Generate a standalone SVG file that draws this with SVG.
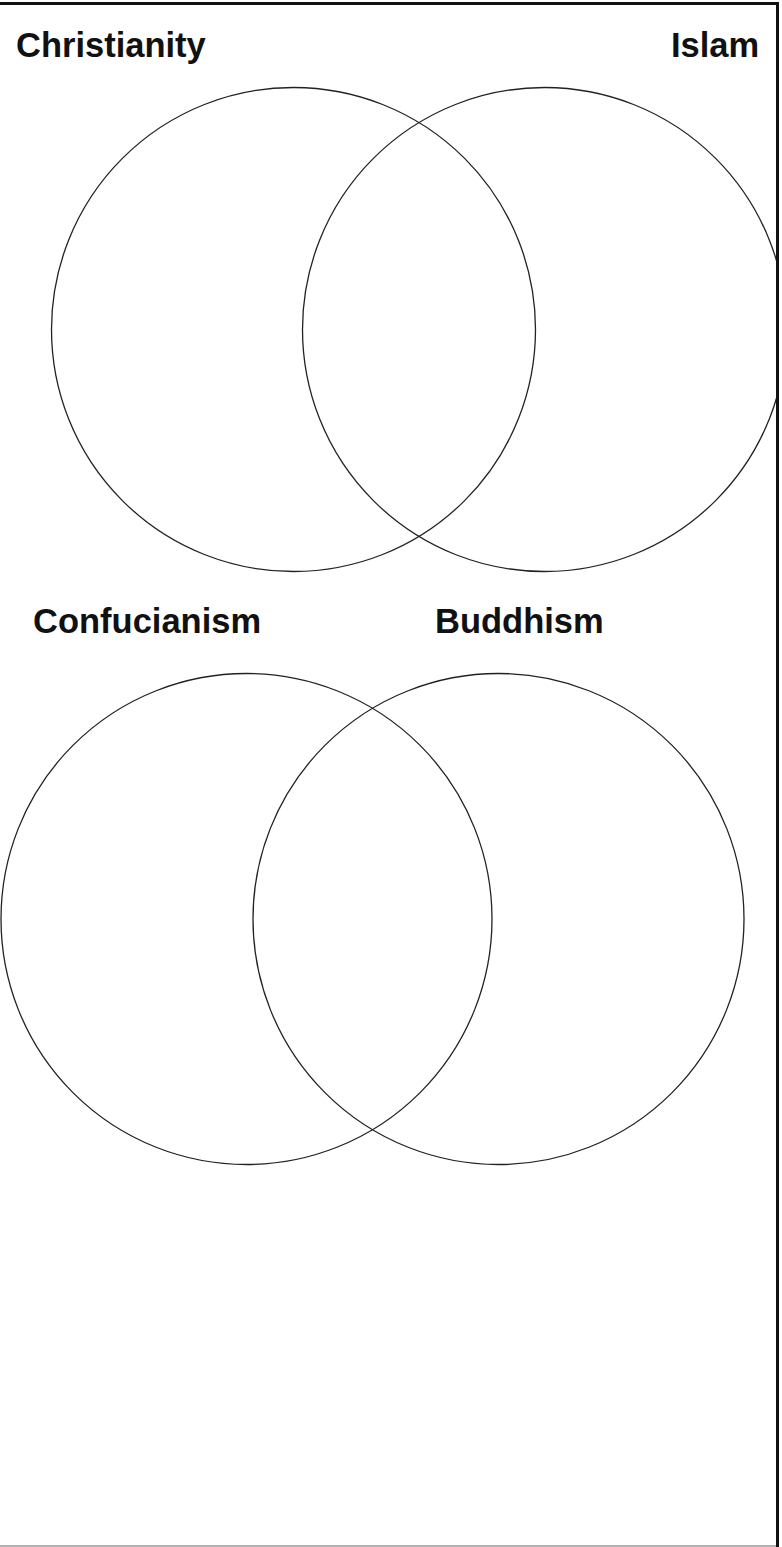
<svg xmlns="http://www.w3.org/2000/svg" width="782" height="1547" viewBox="0 0 782 1547">
<defs><clipPath id="clip"><rect x="0" y="0" width="777" height="1547"/></clipPath></defs>
<style>
.c{fill:none;stroke:#222;stroke-width:1.3}
.t{font-family:"Liberation Sans",Arial,sans-serif;font-weight:bold;font-size:34.5px;fill:#111}
</style>
<rect x="0" y="0" width="782" height="1547" fill="#fff"/>
<g id="frame">
<line x1="0" y1="3.5" x2="779" y2="3.5" stroke="#111" stroke-width="3"/>
<line x1="0" y1="1546" x2="776" y2="1546" stroke="#999" stroke-width="1.5"/>
</g>
<g id="christianity"><circle class="c" cx="293.5" cy="329.5" r="242"/><text class="t" x="16" y="57">Christianity</text></g>
<g id="islam" clip-path="url(#clip)"><circle class="c" cx="544.5" cy="329.5" r="242"/><text class="t" x="671" y="57">Islam</text></g>
<g id="confucianism"><circle class="c" cx="246.5" cy="919" r="245.5"/><text class="t" x="33" y="633">Confucianism</text></g>
<g id="buddhism"><circle class="c" cx="498.5" cy="919" r="245.5"/><text class="t" x="435" y="633">Buddhism</text></g>
<g id="connectors"></g>
<line x1="777.5" y1="2" x2="777.5" y2="1547" stroke="#111" stroke-width="3"/>
</svg>
